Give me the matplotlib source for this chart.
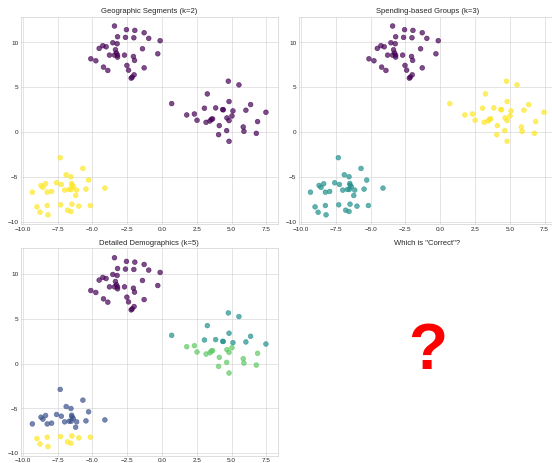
import numpy as np
import matplotlib
matplotlib.use("Agg")
import matplotlib.pyplot as plt

plt.style.use("seaborn-v0_8-whitegrid")
plt.rcParams["font.family"] = ["Liberation Sans", "DejaVu Sans"]

# Upper-left cloud
north_x = [-3.42, -2.56, -1.96, -1.29, -3.20, -2.63, -2.03, -0.96, -0.14, -3.54,
           -3.23, -4.26, -4.02, -4.52, -1.41, -3.35, -3.28, -3.78, -3.42, -3.20,
           -2.70, -0.31, -2.06, -3.20, -1.98, -5.12, -4.76, -2.53, -4.21, -3.90,
           -2.41, -1.29, -2.01, -2.15, -2.22]
north_y = [11.83, 11.42, 11.34, 11.08, 10.63, 10.56, 10.52, 10.45, 10.19, 9.96,
           9.85, 9.63, 9.51, 9.33, 9.29, 9.18, 8.81, 8.58, 8.58, 8.58,
           8.58, 8.73, 8.43, 8.36, 7.99, 8.17, 7.95, 7.43, 7.24, 6.87,
           6.90, 7.16, 6.38, 6.12, 6.01]

# Right-hand cloud
east_x = [0.69, 1.77, 2.32, 2.51, 3.04, 3.25, 3.16, 3.44, 3.54, 3.63,
          3.85, 4.11, 4.06, 4.35, 4.40, 4.76, 4.81, 4.66, 4.81, 4.64,
          4.81, 5.09, 5.02, 5.52, 6.02, 6.36, 5.83, 5.88, 6.77, 6.86, 7.46]
east_y = [3.17, 1.90, 2.01, 1.31, 2.65, 4.25, 1.08, 1.23, 1.42, 1.46,
          2.69, 0.71, -0.30, 2.50, 2.48, 5.67, 3.40, 1.57, 1.27, 0.15,
          -1.04, 2.35, 1.79, 5.26, 2.43, 3.06, 0.56, 0.07, -0.15, 1.16, 2.20]

# Lower-left cloud
south_x = [-7.32, -5.69, -6.89, -6.55, -5.28, -7.58, -7.24, -6.50, -6.47, -6.38,
           -8.37, -8.70, -8.56, -7.94, -8.25, -9.32, -7.00, -6.67, -6.53, -6.14,
           -5.47, -4.11, -6.21, -7.29, -6.48, -8.99, -8.25, -5.98, -5.16, -6.79,
           -6.55, -8.77, -8.20]
south_y = [-2.87, -4.07, -4.78, -5.00, -5.37, -5.67, -5.86, -5.75, -5.93, -6.12,
           -5.78, -5.97, -6.19, -6.64, -6.72, -6.72, -6.49, -6.42, -6.42, -6.49,
           -6.38, -6.27, -7.09, -8.13, -8.06, -8.36, -8.21, -8.28, -8.21, -8.73,
           -8.88, -8.96, -9.25]

# Cluster assignments for the five-segment split
east_k5 = [2, 3, 3, 3, 2, 2, 3, 3, 3, 3,
           2, 3, 3, 2, 2, 2, 2, 3, 3, 3,
           3, 2, 3, 2, 2, 2, 3, 3, 3, 3, 2]
south_k5 = [1] * 23 + [4] * 10

titles = ["Geographic Segments (k=2)", "Spending-based Groups (k=3)",
          "Detailed Demographics (k=5)"]

x = np.array(north_x + east_x + south_x)
y = np.array(north_y + east_y + south_y)
n_n, n_e, n_s = len(north_x), len(east_x), len(south_x)

labels_k2 = [0] * n_n + [0] * n_e + [1] * n_s
labels_k3 = [0] * n_n + [2] * n_e + [1] * n_s
labels_k5 = [0] * n_n + east_k5 + south_k5

fig, axes = plt.subplots(2, 2, figsize=(12, 10.05), dpi=46.08)
fig.subplots_adjust(left=0.0374, right=1.005, top=0.964, bottom=0.0151,
                    wspace=0.0825, hspace=0.1156)
for ax, labels, title in zip(axes.flat[:3], [labels_k2, labels_k3, labels_k5], titles):
    ax.scatter(x, y, c=labels, cmap="viridis", s=55, alpha=0.7)
    ax.set_title(title)
    ax.set_xticks(np.arange(-10, 7.6, 2.5))
    ax.set_yticks([-10, -5, 0, 5, 10])

ax = axes[1, 1]
ax.axis("off")
ax.set_title('Which is "Correct"?')
ax.text(0.5, 0.5, "?", transform=ax.transAxes, ha="center", va="center",
        fontsize=100, color="red", fontweight="bold")

fig.savefig("out.png", dpi=46.08)
